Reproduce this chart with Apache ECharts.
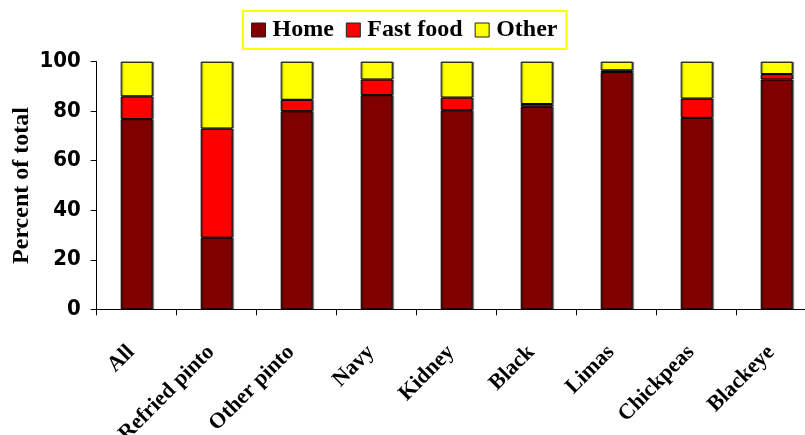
<!DOCTYPE html>
<html>
<head>
<meta charset="utf-8">
<script src="https://cdn.jsdelivr.net/npm/echarts@6/dist/echarts.min.js"></script>
<style>html,body{margin:0;padding:0;background:#fff}#c{width:805px;height:435px}</style>
</head>
<body>
<div id="c"></div>
<script>
const categories = ['All', 'Refried pinto', 'Other pinto', 'Navy', 'Kidney', 'Black', 'Limas', 'Chickpeas', 'Blackeye'];
const home = [76.8, 28.9, 80.0, 86.5, 80.4, 81.8, 95.8, 77.3, 92.8];
const fastFood = [9.2, 44.1, 4.6, 6.3, 5.1, 1.1, 0.7, 7.8, 2.2];
const other = [14.0, 27.0, 15.4, 7.2, 14.5, 17.1, 3.5, 14.9, 5.0];
const yTicks = [0, 20, 40, 60, 80, 100];

const serif = "'Liberation Serif', 'Times New Roman', serif";
const narrow = "'DejaVu Sans Condensed', 'Liberation Sans Narrow', 'Arial Narrow', sans-serif";

const chart = echarts.init(document.getElementById('c'), null, {renderer: 'canvas'});
function mk(name, data, color) {
  return {
    name: name, type: 'bar', stack: 'total', data: data, barWidth: 32,
    itemStyle: {color: color, borderColor: '#000', borderWidth: 1,
      shadowColor: 'rgba(0,0,0,0.4)', shadowOffsetX: 1.5, shadowOffsetY: 0, shadowBlur: 0},
    emphasis: {disabled: true}
  };
}
chart.setOption({
  animation: false,
  legend: {
    left: 243, top: 11,
    padding: [7, 9, 7, 8],
    itemGap: 12, itemWidth: 14, itemHeight: 14, icon: 'rect',
    borderColor: '#ffff00', borderWidth: 2,
    textStyle: {fontFamily: serif, fontWeight: 'bold', fontSize: 24, color: '#000', padding: [0, 0, 0, 2]},
    itemStyle: {borderColor: '#222', borderWidth: 1},
    data: ['Home', 'Fast food', 'Other']
  },
  grid: {left: 96.7, top: 61.7, bottom: 125.7, right: -11.7, containLabel: false, outerBoundsMode: 'none'},
  xAxis: {
    type: 'category', data: categories,
    axisLine: {lineStyle: {color: '#000', width: 1}},
    axisTick: {show: true, length: 6, lineStyle: {color: '#000'}},
    axisLabel: {interval: 0, rotate: 45, margin: 34, padding: [0, 8, 0, 0], fontFamily: serif, fontWeight: 'bold', fontSize: 22, color: '#000'}
  },
  yAxis: {
    type: 'value', min: yTicks[0], max: yTicks[yTicks.length - 1], interval: 20,
    name: 'Percent of total', nameLocation: 'middle', nameGap: 63, nameRotate: 90, nameMoveOverlap: false,
    nameTextStyle: {fontFamily: serif, fontWeight: 'bold', fontSize: 24, color: '#000'},
    axisLine: {show: true, lineStyle: {color: '#000', width: 1}},
    axisTick: {show: true, length: 6, lineStyle: {color: '#000'}},
    splitLine: {show: false},
    axisLabel: {margin: 16, fontFamily: narrow, fontWeight: 'bold', fontSize: 22, color: '#000'}
  },
  series: [
    mk('Home', home, '#800000'),
    mk('Fast food', fastFood, '#ff0000'),
    mk('Other', other, '#ffff00')
  ]
});
</script>
</body>
</html>
